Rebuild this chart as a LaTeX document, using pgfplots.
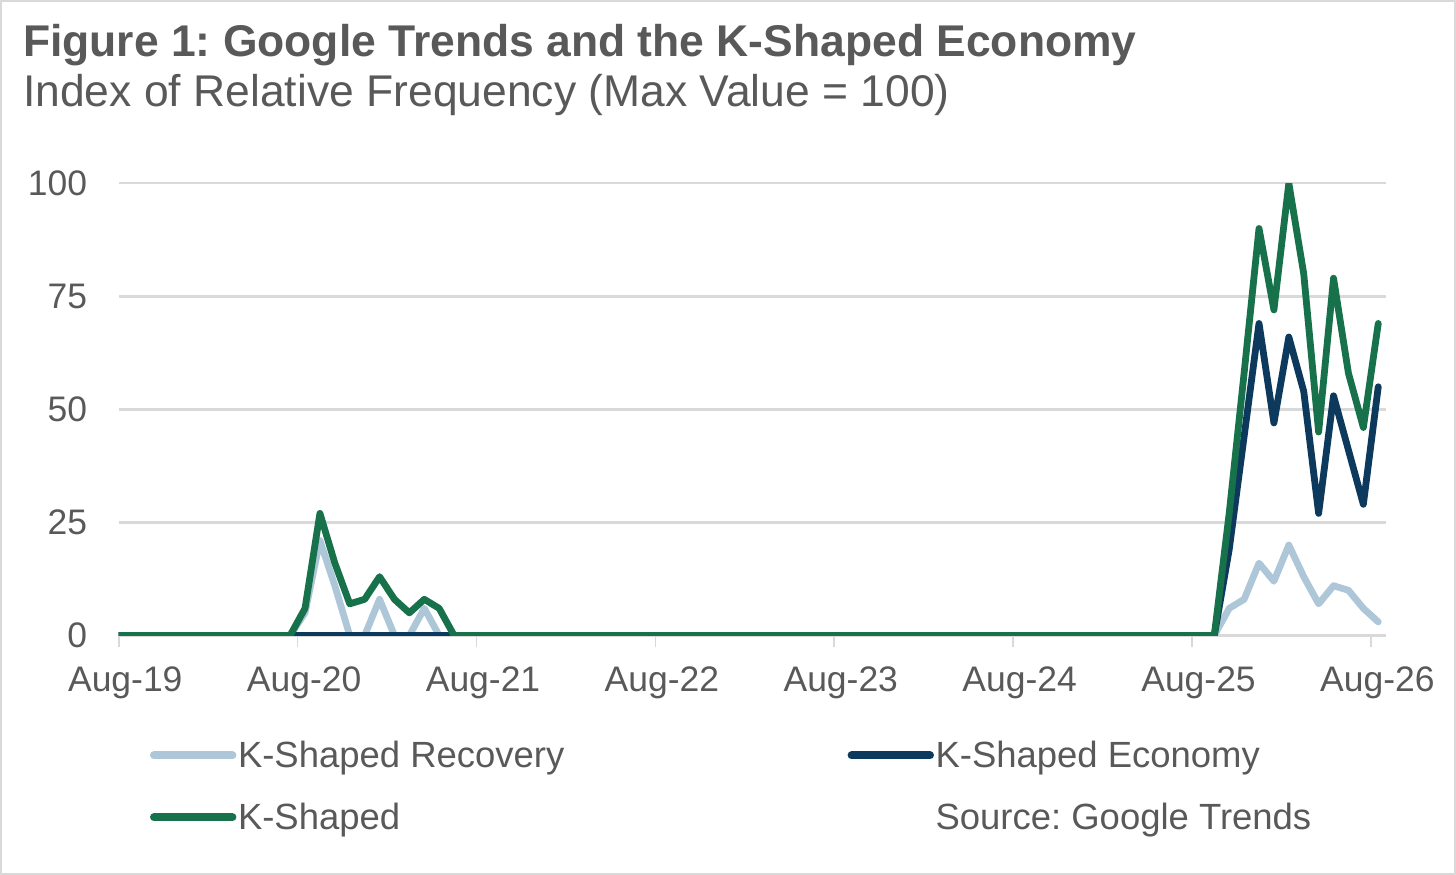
\documentclass[border=0pt]{standalone}
\usepackage{fontspec}
\setmainfont{Liberation Sans}
\usepackage{pgfplots}
\usepackage{pgfplotstable}
\pgfplotsset{compat=1.18}
\frenchspacing
\definecolor{txt}{HTML}{595959}
\definecolor{gridc}{HTML}{D9D9D9}
\definecolor{lblue}{HTML}{AEC7D8}
\definecolor{navy}{HTML}{0D3A5C}
\definecolor{kgreen}{HTML}{17714B}
\newcommand\lstrut{\rule[-5bp]{0pt}{20bp}}
\pgfplotstableread{
x rec econ ks
-0.5 0 0 0
0.5 0 0 0
1.5 0 0 0
2.5 0 0 0
3.5 0 0 0
4.5 0 0 0
5.5 0 0 0
6.5 0 0 0
7.5 0 0 0
8.5 0 0 0
9.5 0 0 0
10.5 0 0 0
11.5 0 0 0
12.5 5 0 6
13.5 21 0 27
14.5 11 0 16
15.5 0 0 7
16.5 0 0 8
17.5 8 0 13
18.5 0 0 8
19.5 0 0 5
20.5 6 0 8
21.5 0 0 6
22.5 0 0 0
23.5 0 0 0
24.5 0 0 0
25.5 0 0 0
26.5 0 0 0
27.5 0 0 0
28.5 0 0 0
29.5 0 0 0
30.5 0 0 0
31.5 0 0 0
32.5 0 0 0
33.5 0 0 0
34.5 0 0 0
35.5 0 0 0
36.5 0 0 0
37.5 0 0 0
38.5 0 0 0
39.5 0 0 0
40.5 0 0 0
41.5 0 0 0
42.5 0 0 0
43.5 0 0 0
44.5 0 0 0
45.5 0 0 0
46.5 0 0 0
47.5 0 0 0
48.5 0 0 0
49.5 0 0 0
50.5 0 0 0
51.5 0 0 0
52.5 0 0 0
53.5 0 0 0
54.5 0 0 0
55.5 0 0 0
56.5 0 0 0
57.5 0 0 0
58.5 0 0 0
59.5 0 0 0
60.5 0 0 0
61.5 0 0 0
62.5 0 0 0
63.5 0 0 0
64.5 0 0 0
65.5 0 0 0
66.5 0 0 0
67.5 0 0 0
68.5 0 0 0
69.5 0 0 0
70.5 0 0 0
71.5 0 0 0
72.5 0 0 0
73.5 0 0 0
74.5 6 19 27
75.5 8 44 58
76.5 16 69 90
77.5 12 47 72
78.5 20 66 100
79.5 13 54 80
80.5 7 27 45
81.5 11 53 79
82.5 10 41 58
83.5 6 29 46
84.5 3 55 69
}\trends
\begin{document}
\begin{tikzpicture}[x=1bp,y=1bp]
\useasboundingbox (-59.35,-119.75) rectangle (668.65,317.75);
\draw[gridc, line width=1bp] (-58.85,-119.25) rectangle (668.15,317.25);
\node[anchor=base west, inner sep=0pt, text=txt, font=\fontsize{22.3}{26}\selectfont\bfseries] at (-48,289.4) {Figure 1: Google Trends and the K-Shaped Economy};
\node[anchor=base west, inner sep=0pt, text=txt, font=\fontsize{22.3}{26}\selectfont] at (-48,264.4) {Index of Relative Frequency (Max Value = 100)};
\begin{axis}[
  at={(0,0)}, anchor=south west, scale only axis,
  width=633.5bp, height=226.1bp,
  xmin=0, xmax=85, ymin=0, ymax=100,
  axis x line*=bottom, axis y line*=left,
  x axis line style={draw=gridc, line width=1.2bp},
  y axis line style={draw=none},
  xtick={0,12,24,36,48,60,72,84},
  xticklabels={Aug-19,Aug-20,Aug-21,Aug-22,Aug-23,Aug-24,Aug-25,Aug-26},
  ytick={0,25,50,75,100},
  tick align=outside,
  major tick length=5.75bp,
  xtick style={draw=gridc, line width=0.8bp},
  ytick style={draw=none},
  ymajorgrids,
  grid style={draw=gridc, line width=1.2bp},
  ticklabel style={font=\fontsize{17.8}{21}\selectfont, text=txt},
  /pgf/number format/assume math mode=true,
  xticklabel style={anchor=north, inner sep=0pt, yshift=-9.85bp, xshift=3.3bp},
  yticklabel style={anchor=east, inner sep=0pt, xshift=-9.85bp},
  legend columns=2,
  legend cell align=left,
  legend image code/.code={\path (0bp,0bp); \draw[#1, line width=4bp, line cap=round] (0bp,-0.8bp) -- (39.2bp,-0.8bp);},
  legend style={at={(axis description cs:0.0247,-0.2251)}, anchor=north west,
    draw=none, fill=none, inner sep=0pt, outer sep=0pt,
    nodes={inner sep=0pt, text=txt, font=\fontsize{18.3}{22}\selectfont},
    row sep=14.5bp,
    /tikz/every odd column/.style={column sep=0.8bp},
    /tikz/every even column/.style={column sep=4.8bp}},
]
\addplot[lblue, line width=3.4bp, line join=round, line cap=round] table[x=x, y=rec] {\trends};
\addlegendentry{\makebox[300bp][l]{\lstrut K-Shaped Recovery}}
\addplot[navy, line width=3.4bp, line join=round, line cap=round] table[x=x, y=econ] {\trends};
\addlegendentry{\makebox[300bp][l]{\lstrut K-Shaped Economy}}
\addplot[kgreen, line width=3.4bp, line join=round, line cap=round] table[x=x, y=ks] {\trends};
\addlegendentry{\makebox[300bp][l]{\lstrut K-Shaped}}
\addlegendimage{empty legend}
\addlegendentry{\makebox[300bp][l]{\lstrut Source: Google Trends}}
\end{axis}
\end{tikzpicture}
\end{document}
